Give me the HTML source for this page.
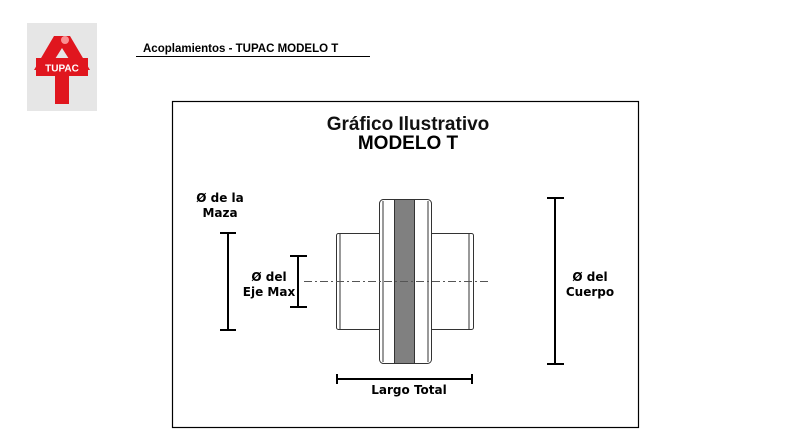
<!DOCTYPE html>
<html><head><style>body{margin:0;background:#fff}svg{display:block}</style></head><body>
<svg width="811" height="436" xmlns="http://www.w3.org/2000/svg" font-family="Liberation Sans, sans-serif">
<rect x="27" y="23" width="70" height="88" fill="#e6e6e6"/>
<polygon points="54,36 70,36 90,70 76,70 62,48 48,70 34,70" fill="#e0161e"/>
<rect x="36" y="58" width="52" height="18" fill="#e0161e"/>
<rect x="55" y="74" width="14" height="30" fill="#e0161e"/>
<circle cx="65" cy="40" r="4" fill="#ffb0b0" opacity="0.8"/>
<text x="62" y="71.5" font-size="10" font-weight="bold" fill="#fff" text-anchor="middle">TUPAC</text>
<text x="143" y="52" font-size="11.5" font-weight="bold">Acoplamientos - TUPAC MODELO T</text>
<line x1="136" y1="56.5" x2="370" y2="56.5" stroke="#000" stroke-width="1"/>
<rect x="172.5" y="101.5" width="466" height="326" fill="none" stroke="#000" stroke-width="1.2"/>
<text x="408" y="130" font-size="19" font-weight="bold" text-anchor="middle" fill="#111">Gráfico Ilustrativo</text>
<text x="408" y="149" font-size="19" font-weight="bold" text-anchor="middle">MODELO T</text>
<g fill="#fff" stroke="#333" stroke-width="1">
<rect x="336.5" y="233.5" width="44" height="96" rx="2"/>
<line x1="340" y1="234" x2="340" y2="329"/>
<rect x="430.5" y="233.5" width="43" height="96" rx="2"/>
<line x1="469" y1="234" x2="469" y2="329"/>
<rect x="379.5" y="199.5" width="52" height="164" rx="4"/>
<line x1="383" y1="201" x2="383" y2="362"/>
<line x1="428" y1="201" x2="428" y2="362"/>
<rect x="394.5" y="199.5" width="20" height="164" fill="#808080"/>
</g>
<line x1="304" y1="281.5" x2="490" y2="281.5" stroke="#555" stroke-width="1" stroke-dasharray="8,3,2,3"/>
<g stroke="#000" stroke-width="2" fill="none">
<path d="M220 233H236M228 233V330M220 330H236"/>
<path d="M290 256H307M298 256V307M290 307H307"/>
<path d="M547 198H564M555 198V364M547 364H564"/>
<path d="M337 374V384M337 379H472M472 374V384"/>
</g>
<g font-family="DejaVu Sans, sans-serif" font-size="12" font-weight="bold" text-anchor="middle">
<text x="220" y="202">Ø de la</text><text x="220" y="217">Maza</text>
<text x="269" y="281">Ø del</text><text x="269" y="296">Eje Max</text>
<text x="590" y="281">Ø del</text><text x="590" y="296">Cuerpo</text>
<text x="409" y="394">Largo Total</text>
</g>
</svg>
</body></html>
